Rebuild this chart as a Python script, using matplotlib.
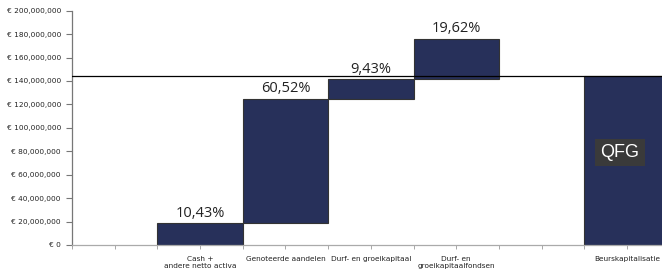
import numpy as np
import matplotlib.pyplot as plt
from matplotlib.ticker import FuncFormatter

# waterfall components (EUR) and their share labels
categories = ["Cash +\nandere netto activa", "Genoteerde aandelen", "Durf- en groeikapitaal",
              "Durf- en\ngroeikapitaalfondsen"]
amounts = [18.4e6, 106.5e6, 16.6e6, 34.5e6]
shares = ["10,43%", "60,52%", "9,43%", "19,62%"]
total_label = "Beurskapitalisatie"
market_cap = 144.0e6
positions = [3, 5, 7, 9]
total_pos = 13

BAR_COLOR = "#27305a"
EDGE_COLOR = "#333333"

plt.rcParams["font.family"] = "DejaVu Sans"

fig = plt.figure(figsize=(6.62, 2.72), dpi=100)
ax = fig.add_axes([0.1088, 0.0993, 0.8912, 0.8614])

bottoms = np.concatenate([[0], np.cumsum(amounts)[:-1]])
ax.bar(positions, amounts, bottom=bottoms, width=2, color=BAR_COLOR,
       edgecolor=EDGE_COLOR, linewidth=0.8, zorder=2)
ax.bar([total_pos], [market_cap], width=2, color=BAR_COLOR,
       edgecolor=EDGE_COLOR, linewidth=0.8, zorder=2)

ax.axhline(market_cap, color="black", linewidth=0.9, zorder=3)

for x, b, a, s in zip(positions, bottoms, amounts, shares):
    ax.text(x, b + a + 2.0e6, s, ha="center", va="bottom", fontsize=10.5,
            family="Open Sans", color="#222222")

ax.text(total_pos - 0.17, 79e6, "QFG", ha="center", va="center", fontsize=13,
        family="Liberation Sans", color="white",
        bbox=dict(boxstyle="square,pad=0.3", facecolor="#3a3a3a", edgecolor="none"))

ax.set_xlim(0, 13.82)
ax.set_ylim(0, 200e6)
ax.set_yticks(np.arange(0, 200e6 + 1, 20e6))
ax.yaxis.set_major_formatter(FuncFormatter(
    lambda v, p: "€ 0" if v == 0 else "€ " + format(int(v), ",")))

ax.xaxis.remove_overlapping_locs = False
ax.set_xticks(np.arange(0, 14))
ax.set_xticklabels([])
ax.set_xticks(positions + [total_pos], minor=True)
ax.set_xticklabels(categories + [total_label], minor=True, va="top", linespacing=1.2)
ax.tick_params(axis="x", which="minor", length=0, pad=8, labelsize=5.3, labelcolor="#222222")
ax.tick_params(axis="x", which="major", length=3, color="#999999", width=0.6)
ax.tick_params(axis="y", length=4, color="#777777", width=0.8, labelsize=5.3,
               labelcolor="#222222", pad=4)

for side in ["top", "right"]:
    ax.spines[side].set_visible(False)
ax.spines["left"].set_color("#777777")
ax.spines["left"].set_linewidth(0.9)
ax.spines["bottom"].set_color("#aaaaaa")
ax.spines["bottom"].set_linewidth(0.9)

fig.savefig("out.png", dpi=100)
